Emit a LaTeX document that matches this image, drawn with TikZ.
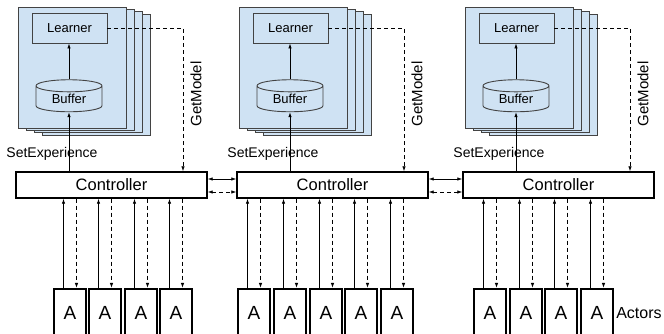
\documentclass[tikz,border=0pt]{standalone}
\usepackage{fontspec}
\setmainfont{Liberation Sans}
\usetikzlibrary{shapes.geometric,arrows.meta,positioning}
\definecolor{panelblue}{HTML}{CFE2F3}
\definecolor{panelgray}{HTML}{434343}

\begin{document}
\begin{tikzpicture}[x=1pt,y=1pt]
\tikzstyle{every node}+=[inner sep=0pt]
\tikzstyle{panel}=[draw=panelgray,fill=panelblue,line width=0.9pt]
\tikzstyle{learnerbox}=[draw=panelgray,line width=0.9pt,minimum width=75pt,minimum height=30pt,font=\fontsize{13}{15}\selectfont]
\tikzstyle{bufferdb}=[cylinder,shape border rotate=90,aspect=0.35,draw=panelgray,line width=0.9pt,minimum width=66pt,minimum height=32pt,font=\fontsize{13}{15}\selectfont]
\tikzstyle{ctrlbox}=[draw,fill=white,line width=1.4pt,minimum width=191pt,minimum height=26pt,font=\fontsize{16.5}{18}\selectfont]
\tikzstyle{actor}=[draw,line width=2.2pt,minimum width=32pt,minimum height=48pt,font=\fontsize{19}{21}\selectfont]
\tikzstyle{link}=[line width=0.8pt,-{Latex[length=5pt,width=3.5pt]}]
\tikzstyle{twolink}=[line width=0.8pt,{Latex[length=5pt,width=3.5pt]}-{Latex[length=5pt,width=3.5pt]}]
\tikzstyle{dashlink}=[dash pattern=on 4pt off 3pt]
\useasboundingbox (0,0) rectangle (664,-334);
\clip (0,0) rectangle (664,-334);

% one learner stack and controller per group
\foreach \g/\L in {1/16,2/237,3/463} {
  \foreach \k in {3,2,1}
    \draw [panel] (\L+2+8*\k,-7-2.4*\k) rectangle (\L+110+8*\k,-128-2.4*\k);
  \draw [panel] (\L+2,-7) rectangle (\L+110,-128);
  \node [learnerbox] (learner\g) at (\L+53.5,-28) {Learner};
  \node [bufferdb] (buffer\g) at (\L+53,-99) {Buffer};
  \node [ctrlbox] (ctrl\g) at (\L+95.5,-185) {Controller};
  \coordinate (gm\g) at (\L+167,-28);
  \draw [link] (buffer\g.north) -- (buffer\g.north |- learner\g.south);
  \draw [link] (buffer\g.south |- ctrl\g.north) -- (buffer\g.south);
  \draw [link,dashlink] (learner\g.east) -- (gm\g) -- (gm\g |- ctrl\g.north);
  \node [font=\fontsize{14}{16}\selectfont] (setexp\g) at (\L+36,-154) {SetExperience};
  \node [rotate=90,font=\fontsize{15}{17}\selectfont] (getmodel\g) at (\L+180,-94) {GetModel};
}

% controller to controller
\draw [twolink] ([yshift=6pt]ctrl1.east) -- ([yshift=6pt]ctrl2.west);
\draw [twolink,dashlink] ([yshift=-7pt]ctrl1.east) -- ([yshift=-7pt]ctrl2.west);
\draw [twolink] ([yshift=6pt]ctrl2.east) -- ([yshift=6pt]ctrl3.west);
\draw [twolink,dashlink] ([yshift=-7pt]ctrl2.east) -- ([yshift=-7pt]ctrl3.west);

% actors
\foreach \n/\x/\g in {1/70/1,2/105/1,3/141/1,4/176/1,5/254/2,6/290/2,7/326/2,8/361/2,9/397/2,10/490/3,11/526/3,12/561/3,13/597/3} {
  \node [actor] (actor\n) at (\x,-313) {A};
  \draw [link] ([xshift=-6.5pt]actor\n.north) -- ([xshift=-6.5pt]actor\n.north |- ctrl\g.south);
  \draw [link,dashlink] ([xshift=6.5pt]actor\n.north |- ctrl\g.south) -- ([xshift=6.5pt]actor\n.north);
}
\node [right=2pt of actor13,font=\fontsize{16}{18}\selectfont] (actors) {Actors};
\end{tikzpicture}
\end{document}
